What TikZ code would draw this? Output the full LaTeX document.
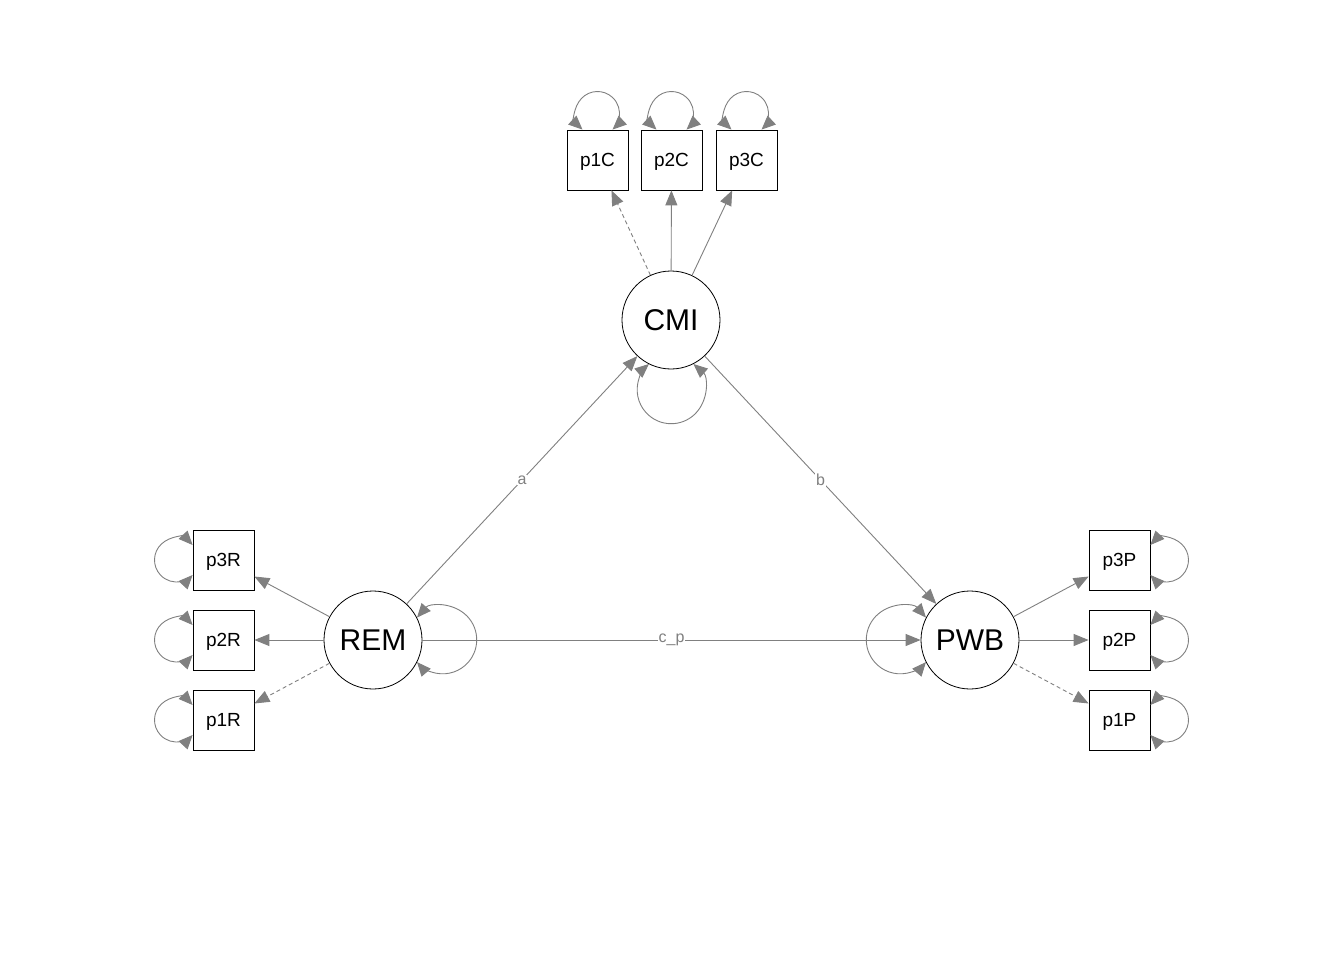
\documentclass[tikz,border=0pt]{standalone}
\usepackage{fontspec}
\setmainfont{Liberation Sans}
\usetikzlibrary{arrows.meta}
\definecolor{edgegray}{RGB}{128,128,128}
\definecolor{labgray}{RGB}{128,128,128}
\begin{document}
\begin{tikzpicture}[x=1pt,y=-1pt,
  lat/.style={circle,draw=black,line width=0.8pt,minimum size=98pt,inner sep=0pt,font=\fontsize{30}{30}\selectfont},
  man/.style={rectangle,draw=black,line width=0.8pt,minimum width=61pt,minimum height=60pt,inner sep=0pt,text depth=0pt,font=\fontsize{19}{19}\selectfont},
  edgearr/.style={draw=edgegray,line width=0.9pt,-{Triangle[length=15pt,width=12pt]}},
  dasharr/.style={edgearr,dash pattern=on 4pt off 3pt},
  vararr/.style={draw=edgegray,line width=0.9pt,{Triangle[length=14pt,width=12pt]}-{Triangle[length=14pt,width=12pt]}},
  lab/.style={fill=white,text=labgray,inner sep=1pt,font=\fontsize{16}{16}\selectfont}
]
\fill[white,use as bounding box] (0,0) rectangle (1344,960);

% latent variables
\node[lat] (CMI) at (671,320) {CMI};
\node[lat] (REM) at (373,640) {REM};
\node[lat] (PWB) at (970,640) {PWB};

% indicators
\node[man] (p1C) at (597.5,160) {p1C};
\node[man] (p2C) at (671.5,160) {p2C};
\node[man] (p3C) at (746.5,160) {p3C};
\node[man] (p3R) at (223.5,560) {p3R};
\node[man] (p2R) at (223.5,640) {p2R};
\node[man] (p1R) at (223.5,720) {p1R};
\node[man] (p3P) at (1119.5,560) {p3P};
\node[man] (p2P) at (1119.5,640) {p2P};
\node[man] (p1P) at (1119.5,720) {p1P};

% loadings
\draw[dasharr] (CMI) -- (p1C);
\draw[edgearr] (CMI) -- (p2C);
\draw[edgearr] (CMI) -- (p3C);
\draw[dasharr] (REM) -- (p1R);
\draw[edgearr] (REM) -- (p2R);
\draw[edgearr] (REM) -- (p3R);
\draw[dasharr] (PWB) -- (p1P);
\draw[edgearr] (PWB) -- (p2P);
\draw[edgearr] (PWB) -- (p3P);

% structural paths
\draw[edgearr] (REM) -- node[lab]{a} (CMI);
\draw[edgearr] (CMI) -- node[lab]{b} (PWB);
\draw[edgearr] (REM) -- node[lab]{c\_p} (PWB);

% latent variances
\draw[vararr] (CMI.-63) arc[start angle=49.1,end angle=-229.1,radius=34pt];
\draw[vararr] (REM.27) arc[start angle=139.1,end angle=-139.1,radius=34pt];
\draw[vararr] (PWB.153) arc[start angle=40.9,end angle=319.1,radius=34pt];

% residual variances
\foreach \n in {p1C,p2C,p3C}{
  \draw[vararr] ([xshift=-15pt]\n.north) arc[start angle=227,end angle=-47,radius=22pt];
}
\foreach \n in {p1R,p2R,p3R}{
  \draw[vararr] ([yshift=15pt]\n.west) arc[start angle=43,end angle=317,radius=22pt];
}
\foreach \n in {p1P,p2P,p3P}{
  \draw[vararr] ([yshift=15pt]\n.east) arc[start angle=137,end angle=-137,radius=22pt];
}
\end{tikzpicture}
\end{document}
